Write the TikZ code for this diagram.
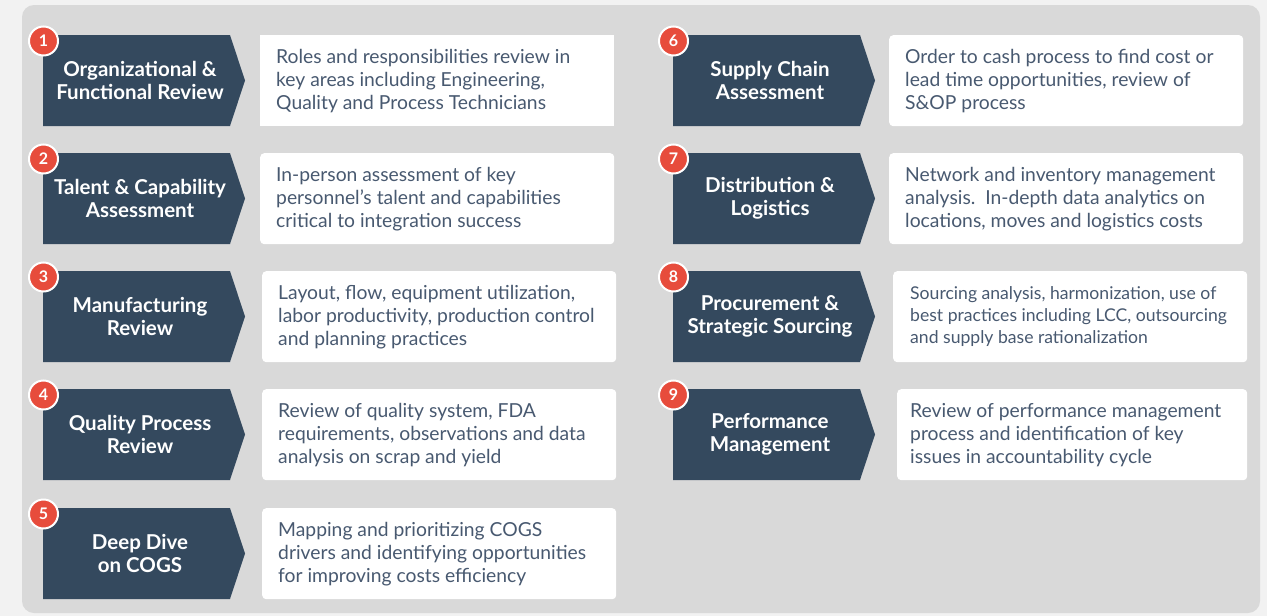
\documentclass[tikz,border=0pt]{standalone}
\usepackage{fontspec}
\setmainfont{Lato}
\usetikzlibrary{calc}
\definecolor{bgc}{HTML}{F2F2F2}
\definecolor{panelc}{HTML}{D9D9D9}
\definecolor{navy}{HTML}{34495E}
\definecolor{badgered}{HTML}{E74C3C}
\definecolor{desctext}{HTML}{485970}
\tikzset{
  ttl/.style={text=white, font=\fontsize{20.5}{23}\selectfont\bfseries, align=center, inner sep=0},
  descbox/.style={fill=white, rounded corners=4pt, minimum width=354pt, minimum height=91pt,
    inner sep=0, anchor=north west},
  desc/.style={text=desctext, font=\fontsize{19.3}{23}\selectfont, align=left, inner sep=0, anchor=west},
  badge/.style={circle, fill=badgered, draw=white, line width=2pt, minimum size=29pt, inner sep=0,
    text=white, font=\fontsize{16}{16}\selectfont\bfseries},
}
% #1 extra desc options, #2 id, #3 chevron x, #4 top y, #5 box x, #6 title, #7 desc, #8 extra box options
\newcommand{\stepitem}[8][]{%
  \coordinate (c#2) at (#3,-#4);
  \fill[navy] (c#2) -- ++(187,0) -- ++(15,-45.5) -- ++(-15,-45.5) -- ++(-187,0) -- cycle;
  \node[ttl] (t#2) at ($(c#2)+(97,-45.5)$) {#6};
  \node[descbox,#8] (d#2) at (#5,-#4) {};
  \node[desc,#1] (x#2) at ($(d#2.west)+(16,0)$) {#7};
  \node[badge] (b#2) at ($(c#2)+(0.5,-6)$) {#2};
}
\begin{document}
\begin{tikzpicture}[x=1pt,y=1pt]
\fill[bgc] (0,0) rectangle (1267,-616);
\useasboundingbox (0,0) rectangle (1267,-616);
\fill[panelc, rounded corners=12pt] (22,-5) rectangle (1260,-613);
\stepitem{1}{43}{35}{260}{Organizational \&\\Functional Review}{Roles and responsibilities review in\\key areas including Engineering,\\Quality and Process Technicians}{sharp corners}
\stepitem{2}{43}{153}{260}{Talent \& Capability\\Assessment}{In-person assessment of key\\personnel’s talent and capabilities\\critical to integration success}{}
\stepitem{3}{43}{271}{262}{Manufacturing\\Review}{Layout, flow, equipment utilization,\\labor productivity, production control\\and planning practices}{}
\stepitem{4}{43}{389}{262}{Quality Process\\Review}{Review of quality system, FDA\\requirements, observations and data\\analysis on scrap and yield}{}
\stepitem{5}{43}{508}{262}{Deep Dive\\on COGS}{Mapping and prioritizing COGS\\drivers and identifying opportunities\\for improving costs efficiency}{}
\stepitem{6}{673}{35}{889}{Supply Chain\\Assessment}{Order to cash process to find cost or\\lead time opportunities, review of\\S\&OP process}{}
\stepitem{7}{673}{153}{889}{Distribution \&\\Logistics}{Network and inventory management\\analysis.\ \ In-depth data analytics on\\locations, moves and logistics costs}{}
\stepitem[font=\fontsize{17.6}{22}\selectfont, xshift=1pt]{8}{673}{271}{893}{Procurement \&\\Strategic Sourcing}{Sourcing analysis, harmonization, use of\\best practices including LCC, outsourcing\\and supply base rationalization}{}
\stepitem[xshift=-3pt]{9}{673}{389}{897}{Performance\\Management}{Review of performance management\\process and identification of key\\issues in accountability cycle}{minimum width=350pt}
\end{tikzpicture}
\end{document}
